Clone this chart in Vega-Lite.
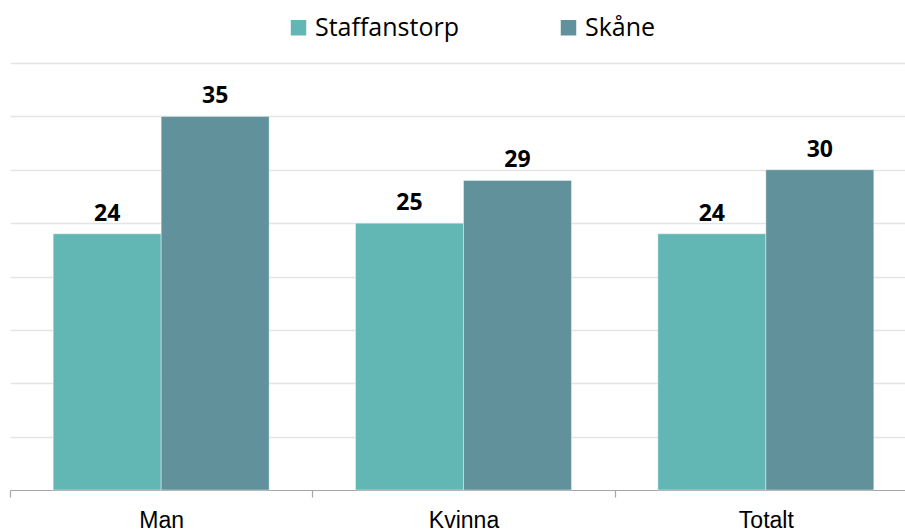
{
  "$schema": "https://vega.github.io/schema/vega-lite/v6.json",
  "autosize": "none",
  "padding": {"left": 10, "top": 63, "right": 0, "bottom": 42},
  "width": 907,
  "height": 427,
  "background": "white",
  "config": {"view": {"stroke": null}},
  "data": {
    "values": [
      {"kategori": "Man", "serie": "Staffanstorp", "varde": 24},
      {"kategori": "Man", "serie": "Skåne", "varde": 35},
      {"kategori": "Kvinna", "serie": "Staffanstorp", "varde": 25},
      {"kategori": "Kvinna", "serie": "Skåne", "varde": 29},
      {"kategori": "Totalt", "serie": "Staffanstorp", "varde": 24},
      {"kategori": "Totalt", "serie": "Skåne", "varde": 30}
    ]
  },
  "encoding": {
    "x": {
      "field": "kategori", "type": "nominal", "sort": ["Man", "Kvinna", "Totalt"],
      "scale": {"paddingInner": 0, "paddingOuter": 0},
      "axis": {
        "title": null, "labelAngle": 0, "labelFont": "Liberation Sans", "labelFontSize": 23,
        "labelColor": "#000000", "labelPadding": 12, "tickBand": "extent", "tickSize": 7,
        "tickColor": "#a6a6a6", "domainColor": "#a6a6a6", "domainWidth": 1.2, "tickWidth": 1.2, "grid": false
      }
    },
    "xOffset": {
      "field": "serie", "type": "nominal", "sort": ["Staffanstorp", "Skåne"],
      "scale": {"paddingInner": 0, "paddingOuter": 0.4}
    },
    "y": {
      "field": "varde", "type": "quantitative",
      "scale": {"domain": [0, 40], "nice": false},
      "axis": {
        "title": null, "labels": false, "ticks": false, "domain": false, "grid": true,
        "values": [5, 10, 15, 20, 25, 30, 35, 40], "gridColor": "#e4e4e4", "gridWidth": 1.5
      }
    }
  },
  "layer": [
    {
      "mark": {"type": "bar", "stroke": "#ffffff", "strokeOpacity": 0.5, "strokeWidth": 0.8},
      "encoding": {
        "color": {
          "field": "serie", "type": "nominal", "sort": ["Staffanstorp", "Skåne"],
          "scale": {"domain": ["Staffanstorp", "Skåne"], "range": ["#62b7b4", "#61929c"]},
          "legend": {
            "title": null, "orient": "none", "direction": "horizontal",
            "legendX": 276, "legendY": -48,
            "symbolType": "square", "symbolSize": 240, "symbolStrokeWidth": 0,
            "labelFont": "Open Sans", "labelFontSize": 25, "labelColor": "#000000",
            "labelOffset": 4, "columnPadding": 97
          }
        }
      }
    },
    {
      "mark": {"type": "text", "font": "Open Sans", "fontWeight": "bold", "fontSize": 23, "color": "#000000", "baseline": "alphabetic", "dy": -13},
      "encoding": {"text": {"field": "varde", "type": "quantitative"}}
    }
  ]
}
